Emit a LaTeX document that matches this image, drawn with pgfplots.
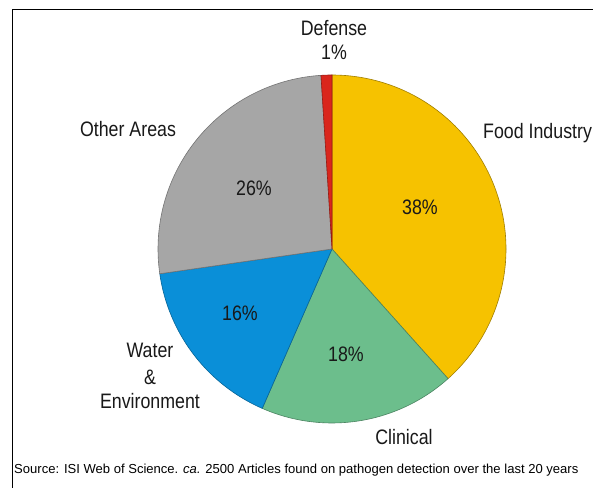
\documentclass[border=0pt]{standalone}
\usepackage{pgfplots}
\pgfplotsset{compat=1.18}
\usepackage{fontspec}
\setmainfont{Liberation Sans}
\definecolor{cFood}{HTML}{F6C200}
\definecolor{cClin}{HTML}{6CBE8C}
\definecolor{cWater}{HTML}{0A8FD8}
\definecolor{cOther}{HTML}{A6A6A6}
\definecolor{cDef}{HTML}{D9261C}
\newcommand{\nar}[1]{\scalebox{0.85}[1]{#1}}
\begin{document}
\begin{tikzpicture}[x=1bp,y=1bp]
\path[use as bounding box] (0,0) rectangle (593,488);
\fill[white] (0,0) rectangle (593,488);
\draw[line width=1.6bp] (12.5,0) -- (12.5,478.5) -- (593,478.5);
% data (percent)
\def\vFood{38}\def\vClin{18}\def\vWater{16}\def\vOther{26}\def\vDef{1}
\pgfmathsetmacro\tot{\vFood+\vClin+\vWater+\vOther+\vDef}
\pgfmathsetmacro\aA{90}
\pgfmathsetmacro\aB{\aA-\vFood*360/\tot}
\pgfmathsetmacro\aC{\aB-\vClin*360/\tot}
\pgfmathsetmacro\aD{\aC-\vWater*360/\tot}
\pgfmathsetmacro\aE{\aD-\vOther*360/\tot}
\pgfmathsetmacro\aF{\aE-\vDef*360/\tot}
\begin{axis}[at={(158bp,65bp)}, anchor=south west, scale only axis,
  width=348bp, height=348bp, xmin=-1, xmax=1, ymin=-1, ymax=1,
  hide axis, clip=false]
\addplot[fill=cFood, draw=cFood!65!black, line width=0.6bp, domain=\aB:\aA, samples=90] ({cos(x)},{sin(x)}) -- (axis cs:0,0) -- cycle;
\addplot[fill=cClin, draw=cClin!70!black, line width=0.6bp, domain=\aC:\aB, samples=50] ({cos(x)},{sin(x)}) -- (axis cs:0,0) -- cycle;
\addplot[fill=cWater, draw=cWater!70!black, line width=0.6bp, domain=\aD:\aC, samples=50] ({cos(x)},{sin(x)}) -- (axis cs:0,0) -- cycle;
\addplot[fill=cOther, draw=cOther!70!black, line width=0.6bp, domain=\aE:\aD, samples=70] ({cos(x)},{sin(x)}) -- (axis cs:0,0) -- cycle;
\addplot[fill=cDef, draw=cDef!70!black, line width=0.6bp, domain=\aF:\aE, samples=5] ({cos(x)},{sin(x)}) -- (axis cs:0,0) -- cycle;
\end{axis}
\begin{scope}[every node/.style={inner sep=0pt, font=\fontsize{21}{24}\selectfont, text=black!90}]
\node at (334,460) {\nar{Defense}};
\node at (334,436) {\nar{1\%}};
\node at (128,359) {\nar{Other Areas}};
\node[anchor=west] at (483,355) {\nar{Food Industry}};
\node at (254,300) {\nar{26\%}};
\node at (420,281) {\nar{38\%}};
\node at (240,175) {\nar{16\%}};
\node at (346,134) {\nar{18\%}};
\node at (150,138) {\nar{Water}};
\node at (150,111) {\nar{\&}};
\node at (150,87) {\nar{Environment}};
\node at (404,51) {\nar{Clinical}};
\end{scope}
\node[anchor=west, inner sep=0pt, font=\fontsize{13.1}{15}\selectfont] at (14,18) {Source: ISI Web of Science. \textit{ca.} 2500 Articles found on pathogen detection over the last 20 years};
\end{tikzpicture}
\end{document}
